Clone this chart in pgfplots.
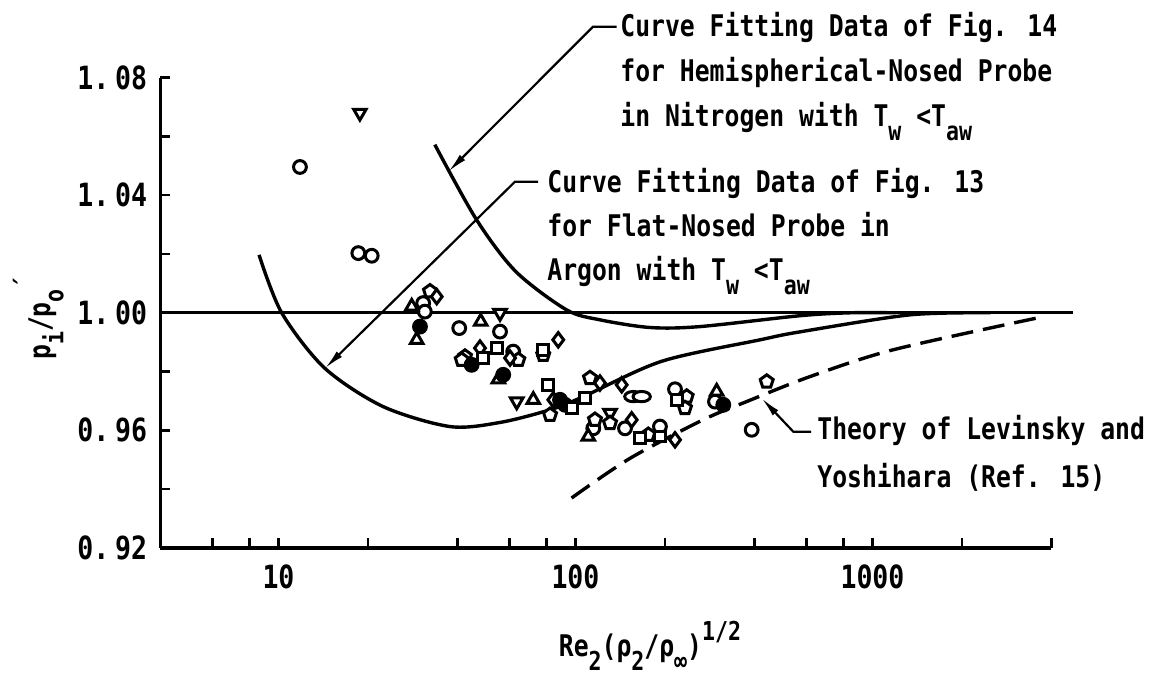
\documentclass[border=0pt]{standalone}
\usepackage{pgfplots}
\pgfplotsset{compat=1.18}
\usepackage{fontspec}
\setmainfont{DejaVu Sans Mono}[FakeStretch=0.83]
\usetikzlibrary{arrows.meta}

% lowered / raised indices set in the text face
\newcommand\sub[1]{\raisebox{-0.45em}{\fontsize{13}{13}\selectfont #1}}
\newcommand\super[1]{\raisebox{0.55em}{\fontsize{13}{13}\selectfont #1}}
\newcommand\annfont{\fontsize{14.9}{18}\selectfont\bfseries}
\newcommand\tl[2]{#1.\kern3pt#2}

\begin{document}
\begin{tikzpicture}[x=1pt,y=1pt]
\useasboundingbox (0,0) rectangle (587,339.5);
\begin{axis}[
  at={(80.15pt,65.5pt)}, anchor=south west,
  scale only axis, width=445.5pt, height=235.2pt,
  xmode=log, xmin=4, xmax=4000, ymin=0.92, ymax=1.08,
  axis x line*=bottom, axis y line*=left,
  axis line style={line width=1.7pt},
  clip=false,
  xminorticks=false, yminorticks=false,
  xtick={6,8,10,20,40,60,80,100,200,400,600,800,1000,2000,4000},
  xticklabels={{},{},10,{},{},{},{},100,{},{},{},{},1000,{},{}},
  ytick={0.92,0.94,0.96,0.98,1.00,1.02,1.04,1.06,1.08},
  yticklabels={\tl{0}{92},{},\tl{0}{96},{},\tl{1}{00},{},\tl{1}{04},{},\tl{1}{08}},
  tick align=inside, major tick length=5pt,
  tick style={line width=1.3pt, black},
  ticklabel style={font=\fontsize{16}{16}\selectfont\bfseries},
  xticklabel style={yshift=-5pt},
  yticklabel style={xshift=-3pt},
]
% reference level
\addplot[black, line width=1.7pt] coordinates {(4,1.0) (4730,1.0)};

% flat-nosed probe in argon (Fig. 13 fit)
\addplot[black, line width=1.7pt, smooth] coordinates {
 (8.6,1.0197) (10.25,1.0000) (14.3,0.9812) (22.5,0.9681) (37.8,0.9613)
 (55.7,0.9627) (82,0.9670) (105.9,0.9714) (195,0.9835) (418,0.9908)
 (569,0.9935) (1337,0.9993) (2500,1.0000)};

% hemispherical-nosed probe in nitrogen (Fig. 14 fit)
\addplot[black, line width=1.7pt, smooth] coordinates {
 (33.6,1.0572) (46.4,1.0317) (63,1.0140) (93.3,1.0010) (121,0.9976)
 (178,0.9950) (262,0.9953) (569,0.9990) (840,1.0000) (1200,1.0000)};

% theory of Levinsky and Yoshihara
\addplot[black, line width=1.7pt, smooth, dash pattern=on 11pt off 5pt] coordinates {
 (97,0.9370) (152.6,0.9505) (269,0.9636) (377,0.9698) (616,0.9783)
 (1172,0.9874) (3573,0.9982)};

% measured data: open symbols are white-filled, bold outline
\pgfplotsset{mk/.style={only marks, black, line width=1.5pt}}
\addplot[mk, mark=*, mark options={solid, line width=1.5pt, fill=white}, mark size=3.2pt] coordinates {
 (11.81,1.0496) (18.57,1.0203) (20.6,1.0194) (30.7,1.0033) (31.1,1.0004)
 (40.6,0.9948) (55.7,0.9936) (61.7,0.9868) (216.3,0.9740) (294.9,0.9698)
 (392,0.9602) (114.8,0.9607) (146.8,0.9607) (192.5,0.9613)};
\addplot[mk, mark=triangle*, mark options={solid, line width=1.5pt, fill=white, rotate=180}, mark size=3.6pt] coordinates {
 (18.8,1.0680) (55.7,0.9999) (63.4,0.9698) (130.7,0.9659)};
\addplot[mk, mark=triangle*, mark options={solid, line width=1.5pt, fill=white}, mark size=3.6pt] coordinates {
 (28.09,1.0021) (29.2,0.9908) (47.96,0.9970) (55.0,0.9774) (72.1,0.9704)
 (110.4,0.9579) (298.8,0.9732)};
\addplot[mk, mark=pentagon*, mark options={solid, line width=1.5pt, fill=white}, mark size=3.4pt] coordinates {
 (32.37,1.0073) (42.46,0.9851) (41.4,0.9840) (64.2,0.9840) (77.9,0.9857)
 (82.1,0.9653) (111.9,0.9778) (236.8,0.9715) (233.7,0.9676) (116.3,0.9636)
 (130.7,0.9625) (175.9,0.9585) (440.4,0.9766)};
\addplot[mk, mark=diamond*, mark options={solid, line width=1.5pt, fill=white}, mark size=3.6pt] coordinates {
 (34.1,1.0055) (47.7,0.9880) (60.2,0.9846) (87.5,0.9908) (84.2,0.9704)
 (120.9,0.9761) (143.1,0.9755) (154.6,0.9636) (216.3,0.9568)};
\addplot[mk, mark=*, mark options={solid, line width=1.5pt, fill=black}, mark size=3.2pt] coordinates {
 (29.95,0.9953) (44.7,0.9823) (57.1,0.9789) (88.7,0.9704) (92.2,0.9687)
 (314.5,0.9687)};
\addplot[mk, mark=square*, mark options={solid, line width=1.5pt, fill=white}, mark size=2.7pt] coordinates {
 (54.3,0.9880) (48.9,0.9846) (77.9,0.9874) (80.96,0.9755) (97.1,0.9676)
 (107.6,0.9710) (219.1,0.9704) (164.9,0.9573) (192.5,0.9579)};
\addplot[mk, mark=*, mark options={solid, line width=1.5pt, fill=white, xscale=1.35, yscale=0.8}, mark size=3.2pt] coordinates {
 (156.6,0.9715) (167.1,0.9715)};
\end{axis}

% annotations, in picture units (x right, y down)
\begin{scope}[x=0.5pt, y=-0.5pt, yshift=339.5pt]
\tikzset{lbl/.style={anchor=base west, inner sep=0pt, font=\annfont},
         lead/.style={line width=1.1pt, -{Latex[length=10pt,width=3.8pt]}}}
\node[lbl] at (620,37) {Curve Fitting Data of Fig. 14};
\node[lbl] at (620,82) {for Hemispherical-Nosed Probe};
\node[lbl] at (620,127) {in Nitrogen with T\sub{w} <T\sub{aw}};
\draw[lead] (616.7,26.7) -- (593,26.7) -- (448.3,171.7);

\node[lbl] at (547,193) {Curve Fitting Data of Fig. 13};
\node[lbl] at (547,237) {for Flat-Nosed Probe in};
\node[lbl] at (547,281) {Argon with T\sub{w} <T\sub{aw}};
\draw[lead] (538,181.7) -- (515,181.7) -- (325,368.3);

\node[lbl] at (817,440) {Theory of Levinsky and};
\node[lbl] at (817,488) {Yoshihara (Ref. 15)};
\draw[lead] (811,431.7) -- (793.3,431.7) -- (761.7,398.3);

\node[anchor=base, inner sep=0pt, font=\annfont] at (650,657)
  {Re\sub{2}(ρ\sub{2}/ρ\sub{∞})\super{1/2}};
\node[anchor=base, inner sep=0pt, font=\annfont, rotate=90] at (50,318)
  {p\sub{i}/p\sub{o}\super{´}};
\end{scope}
\end{tikzpicture}
\end{document}
